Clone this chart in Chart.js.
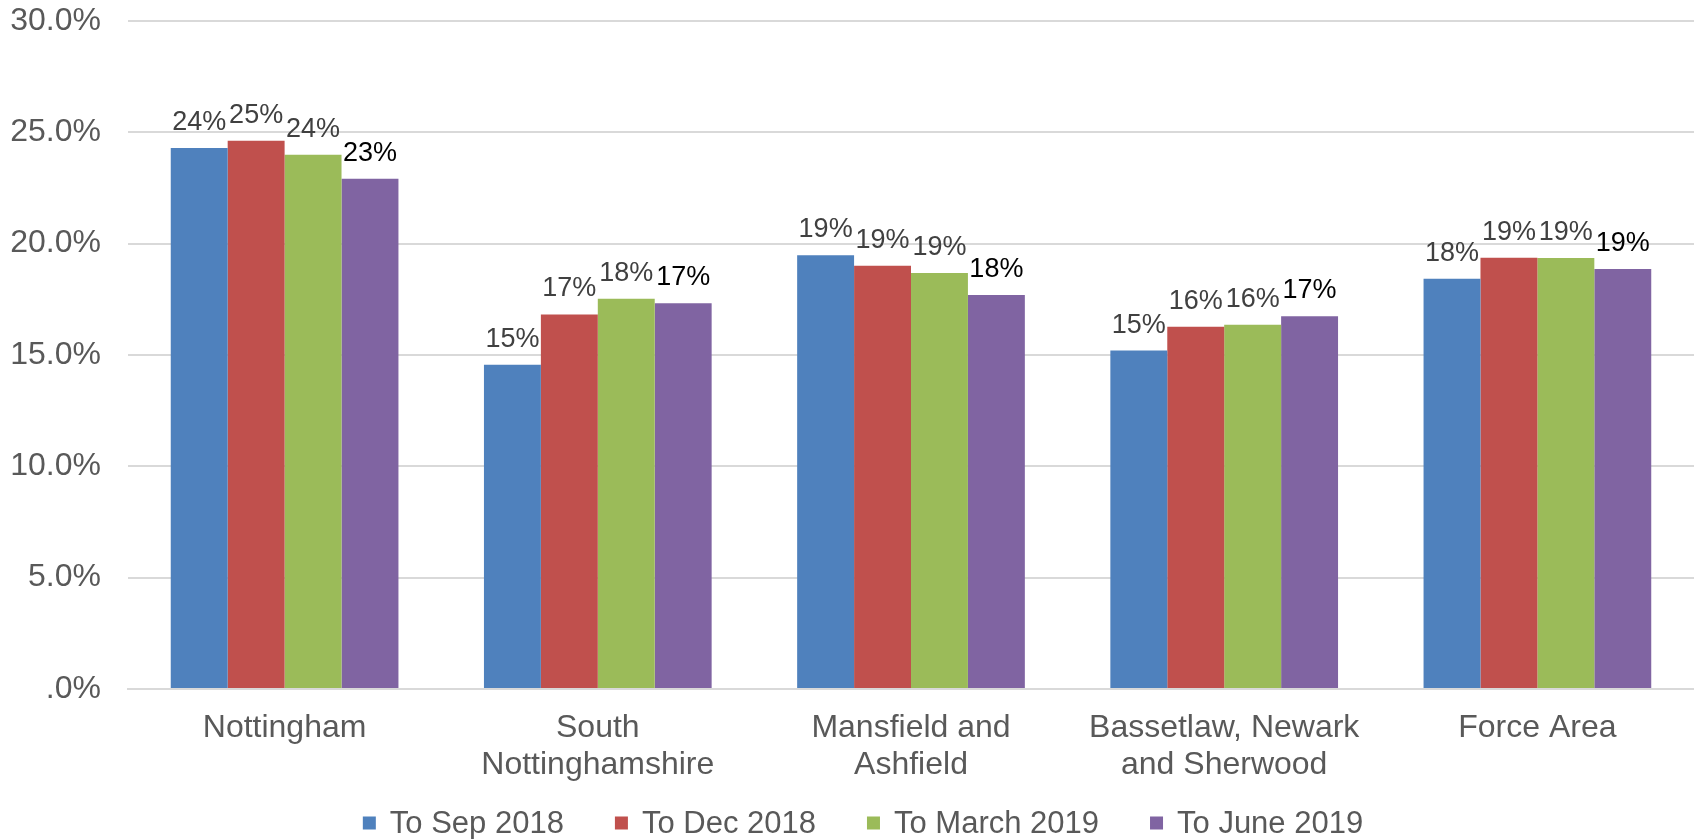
<!DOCTYPE html>
<html lang="en">
  <head>
    <meta charset="UTF-8" />
    <title>Chart</title>
    <script src="https://cdn.jsdelivr.net/npm/chart.js"></script>
    <style>
      body { margin: 0; background: #fff; }
      #wrap { width: 1694px; height: 839px; position: relative; }
    </style>
  </head>
  <body>
    <div id="wrap"><canvas id="areaChart"></canvas></div>

    <script>
      // categories and series (percent)
      const areas = [
        "Nottingham",
        ["South", "Nottinghamshire"],
        ["Mansfield and", "Ashfield"],
        ["Bassetlaw, Newark", "and Sherwood"],
        "Force Area",
      ];
      const seriesNames = ["To Sep 2018", "To Dec 2018", "To March 2019", "To June 2019"];
      const toSep2018 = [24.3, 14.56, 19.48, 15.2, 18.43];
      const toDec2018 = [24.62, 16.82, 19.01, 16.27, 19.37];
      const toMar2019 = [23.99, 17.53, 18.68, 16.36, 19.36];
      const toJun2019 = [22.92, 17.32, 17.69, 16.74, 18.86];
      const yTicks = [0, 5, 10, 15, 20, 25, 30];

      const colours = ["#4f81bd", "#c0504d", "#9bbb59", "#8064a2"];
      const labelColours = ["#404040", "#404040", "#404040", "#000000"];
      const font = "'Liberation Sans', Arial, sans-serif";

      // value labels above each bar
      const barLabels = {
        id: "barLabels",
        afterDatasetsDraw(chart) {
          const ctx = chart.ctx;
          ctx.save();
          ctx.font = "27px " + font;
          ctx.textAlign = "center";
          ctx.textBaseline = "alphabetic";
          chart.data.datasets.forEach((ds, i) => {
            const meta = chart.getDatasetMeta(i);
            ctx.fillStyle = labelColours[i];
            meta.data.forEach((bar, j) => {
              ctx.fillText(Math.round(ds.data[j]) + "%", bar.x, bar.y - 18);
            });
          });
          ctx.restore();
        },
      };

      // legend drawn by hand so it can sit close under the axis labels
      const bottomLegend = {
        id: "bottomLegend",
        afterDraw(chart) {
          const ctx = chart.ctx;
          const box = 13, gap = 14, spacing = 51, y = 823, centre = 863;
          ctx.save();
          ctx.font = "31px " + font;
          ctx.textBaseline = "middle";
          const items = chart.data.datasets.map((ds) => ({
            text: ds.label,
            colour: ds.backgroundColor,
            w: ctx.measureText(ds.label).width,
          }));
          const total = items.reduce((s, it) => s + box + gap + it.w, 0) + spacing * (items.length - 1);
          let x = centre - total / 2;
          items.forEach((it) => {
            ctx.fillStyle = it.colour;
            ctx.fillRect(x, y - box / 2, box, box);
            ctx.fillStyle = "#595959";
            ctx.fillText(it.text, x + box + gap, y + 1);
            x += box + gap + it.w + spacing;
          });
          ctx.restore();
        },
      };

      const allSeries = [toSep2018, toDec2018, toMar2019, toJun2019];

      new Chart(document.getElementById("areaChart"), {
        type: "bar",
        data: {
          labels: areas,
          datasets: allSeries.map((d, i) => ({
            label: seriesNames[i],
            data: d,
            backgroundColor: colours[i],
            borderWidth: 0,
            categoryPercentage: 0.727,
            barPercentage: 1.0,
          })),
        },
        options: {
          responsive: true,
          maintainAspectRatio: false,
          animation: false,
          layout: { padding: 0 },
          plugins: {
            tooltip: { enabled: false },
            legend: { display: false },
          },
          scales: {
            x: {
              afterFit: (scale) => {
                scale.height = 150;
              },
              grid: { display: false, drawTicks: false },
              border: { display: true, color: "#d9d9d9", width: 2 },
              ticks: {
                color: "#595959",
                padding: 21,
                maxRotation: 0,
                autoSkip: false,
                font: { family: font, size: 32, lineHeight: 1.15 },
              },
            },
            y: {
              min: 0,
              max: 30,
              afterBuildTicks: (scale) => {
                scale.ticks = yTicks.map((v) => ({ value: v }));
              },
              afterFit: (scale) => {
                scale.width = 128;
                scale.paddingTop = 21;
                scale.paddingBottom = 0;
              },
              grid: { color: "#d9d9d9", lineWidth: 2, drawTicks: false },
              border: { display: false },
              ticks: {
                color: "#595959",
                padding: 27,
                font: { family: font, size: 32 },
                callback: (v) => (v === 0 ? ".0%" : v.toFixed(1) + "%"),
              },
            },
          },
        },
        plugins: [barLabels, bottomLegend],
      });
    </script>
  </body>
</html>
